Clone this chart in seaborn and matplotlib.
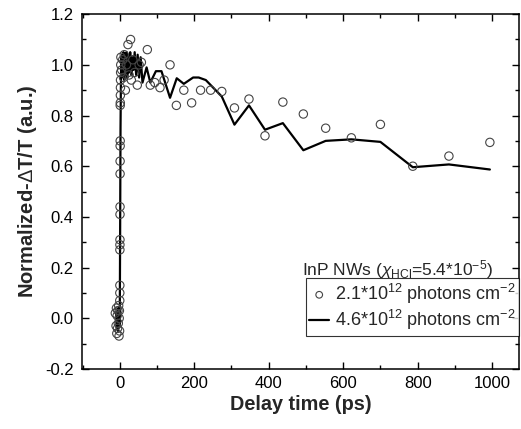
import matplotlib
matplotlib.use("Agg")
from matplotlib import pyplot as plt
from matplotlib.ticker import MultipleLocator
import seaborn as sns
import pandas as pd

# open circles: 2.1e12 photons cm^-2
t_low = [-12, -10, -9, -8, -7, -6, -5, -4, -3, -2, -1.5, -1, -0.5,
         0, 0.1, 0.2, 0.3, 0.4, 0.5, 0.6, 0.7, 0.8, 0.9, 1.0, 1.1, 1.2, 1.4,
         1.6, 1.8, 2.0, 2.3, 2.6, 3.0,
         5, 8, 10, 12, 15, 18, 22, 25, 29, 31, 35, 40, 47, 52, 58,
         74, 82, 94, 108, 119, 135, 152, 172, 193, 217, 244, 274, 308,
         347, 390, 438, 493, 553, 622, 700, 787, 884, 994]
v_low = [0.02, -0.03, 0.04, -0.06, 0.01, -0.04, 0.03, -0.02, 0.05, -0.07, 0.00, 0.03, -0.05,
         0.07, 0.10, 0.13, 0.27, 0.29, 0.31, 0.41, 0.44, 0.57, 0.62, 0.68, 0.70, 0.84, 0.85,
         0.88, 0.91, 0.94, 0.97, 1.00, 1.03,
         0.98, 1.02, 0.95, 1.04, 0.90, 1.00, 1.08, 0.96, 1.10, 0.94, 1.02, 0.97, 0.92, 1.00, 1.01,
         1.06, 0.92, 0.93, 0.91, 0.94, 1.00, 0.84, 0.90, 0.85, 0.90, 0.90, 0.895, 0.83,
         0.865, 0.72, 0.853, 0.806, 0.75, 0.712, 0.765, 0.60, 0.64, 0.694]

# solid line: 4.6e12 photons cm^-2
t_high = [-10, -8, -6, -5, -4, -3, -2, -1, 0, 1, 2, 3, 4, 5, 6, 7, 8, 10, 12, 14,
          16, 18, 20, 22, 25, 28, 31, 34, 37, 40, 44, 48, 52, 56, 61, 72, 82, 97,
          112, 135, 153, 172, 197, 212, 231, 274, 308, 347, 390, 438, 493, 553,
          622, 700, 787, 884, 994]
v_high = [0.02, -0.04, 0.03, -0.05, 0.04, -0.02, 0.01, -0.03, 0.00, 0.35, 0.75, 0.92,
          0.98, 1.03, 0.95, 1.04, 0.97, 1.05, 0.94, 1.03, 0.96, 1.05, 0.95, 1.04, 0.97,
          1.05, 0.96, 1.03, 0.98, 1.05, 0.96, 1.04, 0.95, 1.03, 0.93, 0.99, 0.93, 0.975,
          0.975, 0.87, 0.947, 0.925, 0.95, 0.95, 0.94, 0.875, 0.764, 0.84, 0.744, 0.77,
          0.663, 0.70, 0.706, 0.696, 0.596, 0.607, 0.587]

lbl_low = r"2.1*10$^{12}$ photons cm$^{-2}$"
lbl_high = r"4.6*10$^{12}$ photons cm$^{-2}$"

df_low = pd.DataFrame({"t": t_low, "v": v_low})
df_high = pd.DataFrame({"t": t_high, "v": v_high})

sns.set_style("ticks")
plt.rcParams["font.family"] = ["Liberation Sans", "DejaVu Sans"]
plt.rcParams["mathtext.fontset"] = "custom"
plt.rcParams["mathtext.rm"] = "Liberation Sans"
plt.rcParams["mathtext.it"] = "Liberation Sans:italic"
plt.rcParams["mathtext.bf"] = "Liberation Sans:bold"
plt.rcParams["axes.unicode_minus"] = False

fig = plt.figure(figsize=(5.21, 4.29), dpi=100)
ax = fig.add_axes([0.157, 0.14, 0.839, 0.827])

sns.scatterplot(data=df_low, x="t", y="v", ax=ax, marker="o", s=36,
                facecolor="none", edgecolor="#444444", linewidth=0.8,
                label=lbl_low, zorder=3)
sns.lineplot(data=df_high, x="t", y="v", ax=ax, color="black", linewidth=1.6,
             label=lbl_high, sort=False, estimator=None, zorder=2)

ax.set_xlim(-102, 1072)
ax.set_ylim(-0.2, 1.2)
ax.xaxis.set_major_locator(MultipleLocator(200))
ax.xaxis.set_minor_locator(MultipleLocator(100))
ax.yaxis.set_major_locator(MultipleLocator(0.2))
ax.yaxis.set_minor_locator(MultipleLocator(0.1))
ax.yaxis.set_major_formatter(matplotlib.ticker.FormatStrFormatter("%.1f"))
ax.tick_params(which="both", direction="in", top=True, right=True, labelsize=12,
               width=1.0, colors="black")
ax.tick_params(which="major", length=5)
ax.tick_params(which="minor", length=3)
ax.tick_params(axis="y", which="major", pad=6)
ax.tick_params(axis="x", which="major", pad=5)
for sp in ax.spines.values():
    sp.set_linewidth(1.1)
    sp.set_color("black")

ax.set_xlabel("Delay time (ps)", fontsize=14.3, fontweight="bold", labelpad=3)
ax.set_ylabel("Normalized-$\\Delta$T/T (a.u.)", fontsize=14.5, fontweight="bold", labelpad=4)

ax.text(0.503, 0.279, r"InP NWs ($\chi_{\rm HCl}$=5.4*10$^{-5}$)", transform=ax.transAxes,
        ha="left", va="center", fontsize=12.5)
leg = ax.legend(loc="lower right", bbox_to_anchor=(1.0, 0.093), fontsize=13,
                frameon=True, fancybox=False, edgecolor="black", handlelength=1.1,
                handletextpad=0.3, borderpad=0.2, labelspacing=0.15, borderaxespad=0,
                markerscale=0.8)
leg.get_frame().set_linewidth(0.8)

fig.savefig("out.png", dpi=100)
